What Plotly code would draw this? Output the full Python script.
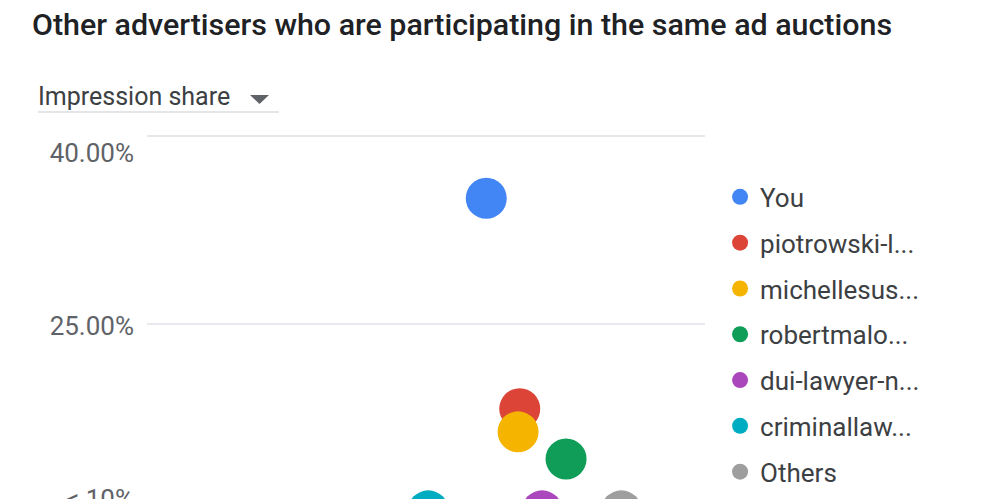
import plotly.graph_objects as go

# auction insights: impression share vs. position (x axis hidden in the source)
advertisers = ["You", "piotrowski-l...", "michellesus...", "robertmalo...",
               "dui-lawyer-n...", "criminallaw...", "Others"]
impression_share = [36.1, 17.85, 15.85, 13.5, 9.0, 9.0, 9.0]
overlap = [60.8, 66.8, 66.5, 75.1, 70.8, 50.4, 85.0]
colors = ["#4285F4", "#DB4437", "#F4B400", "#0F9D58", "#AB47BC", "#00ACC1", "#9E9E9E"]

tick_vals = [10, 25, 40]
tick_text = ["< 10%", "25.00%", "40.00%"]

# the source is a crop: the figure runs past the bottom of the window
W, H = 988, 560

fig = go.Figure()
for i, name in enumerate(advertisers):
    fig.add_trace(go.Scatter(
        x=[overlap[i]], y=[impression_share[i]], name=name,
        mode="markers", legendgroup=name, cliponaxis=False,
        marker=dict(size=41, color=colors[i], line=dict(width=0)),
    ))

legend = dict(x=1.027, xanchor="left", y=0.911, yanchor="top",
              font=dict(size=26, color="#3c4043"), itemsizing="trace",
              tracegroupgap=9, traceorder="grouped")

fig.update_layout(
    width=W, height=H,
    margin=dict(l=139, r=291, t=128, b=11, autoexpand=False),
    paper_bgcolor="white", plot_bgcolor="white",
    font=dict(family="Roboto", color="#5f6368"),
    title=dict(text="Other advertisers who are participating in the same ad auctions",
               x=24 / W, xanchor="left", y=1 - 16 / H, yanchor="middle",
               font=dict(family="Roboto", size=30.4, color="#202124", weight=500)),
    xaxis=dict(visible=False, range=[0, 100]),
    yaxis=dict(range=[5, 41.5], tickvals=tick_vals, ticktext=tick_text,
               showgrid=False, zeroline=False, showline=False,
               tickfont=dict(size=26, color="#5f6368"), ticklabelstandoff=12),
    legend=legend,
    showlegend=True,
)

# gridline at 25% and the top border line
fig.add_shape(type="line", xref="paper", yref="y", x0=0, x1=1, y0=25.2, y1=25.2,
              line=dict(color="#e8eaed", width=2), layer="below")
fig.add_shape(type="line", xref="paper", yref="paper", x0=0, x1=1, y0=1, y1=1,
              line=dict(color="#e0e0e0", width=1.5), layer="below")

# metric selector (positions given in window pixels)
px_x = lambda v: (v - 147) / 558
px_y = lambda v: (557 - v) / 421
fig.add_annotation(text="Impression share", xref="paper", yref="paper",
                   x=px_x(36), y=px_y(97), xanchor="left", yanchor="middle",
                   showarrow=False, font=dict(size=25, color="#3c4043"))
fig.add_shape(type="path", xref="paper", yref="paper",
              path=f"M {px_x(250)} {px_y(95)} L {px_x(269)} {px_y(95)} L {px_x(259.5)} {px_y(104)} Z",
              fillcolor="#5f6368", line=dict(width=0))
fig.add_shape(type="line", xref="paper", yref="paper",
              x0=px_x(38), x1=px_x(279), y0=px_y(112), y1=px_y(112),
              line=dict(color="#dadce0", width=1.5))

fig.write_html("out.html")
